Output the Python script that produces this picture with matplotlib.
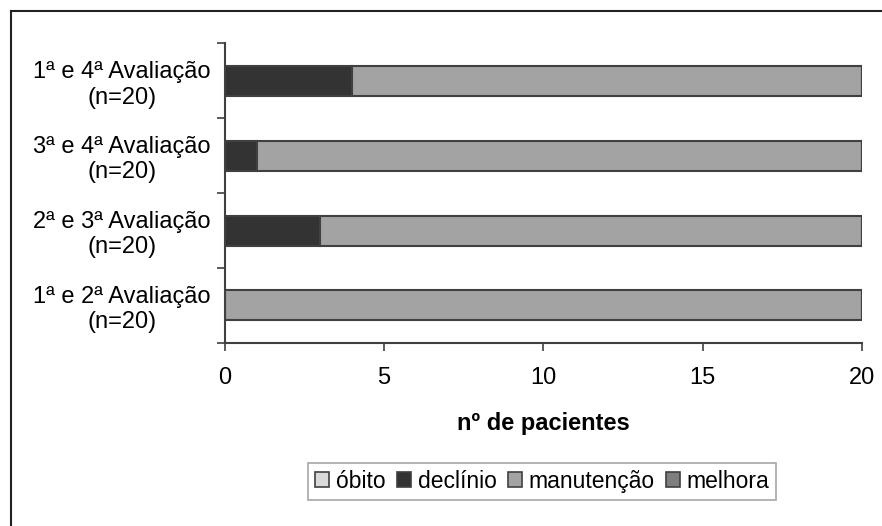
import matplotlib.pyplot as plt
from matplotlib.lines import Line2D
import numpy as np

plt.rcParams['font.family'] = ['Liberation Sans', 'DejaVu Sans']

# dados (de baixo para cima)
categorias = ['1ª e 2ª Avaliação\n(n=20)', '2ª e 3ª Avaliação\n(n=20)',
              '3ª e 4ª Avaliação\n(n=20)', '1ª e 4ª Avaliação\n(n=20)']
obito = [0, 0, 0, 0]
declinio = [0, 3, 1, 4]
manutencao = [20, 17, 19, 16]
melhora = [0, 0, 0, 0]

series = [('óbito', obito, '#d9d9d9'),
          ('declínio', declinio, '#333333'),
          ('manutenção', manutencao, '#a3a3a3'),
          ('melhora', melhora, '#7f7f7f')]

fig = plt.figure(figsize=(8.82, 5.26), dpi=100)
ax = fig.add_axes([0.255, 0.348, 0.722, 0.570])

y = np.arange(len(categorias))
left = np.zeros(len(categorias))
handles = []
for nome, vals, cor in series:
    vals = np.array(vals, dtype=float)
    ax.barh(y, vals, left=left, height=0.4, color=cor,
            edgecolor='#404040', linewidth=1.5)
    left += vals
    handles.append(plt.Rectangle((0, 0), 1, 1, facecolor=cor,
                                 edgecolor='#404040', linewidth=1.2))

ax.set_xlim(0, 20)
ax.set_ylim(-0.5, len(categorias) - 0.5)
ax.set_xticks([0, 5, 10, 15, 20])
ax.tick_params(axis='x', labelsize=17, length=6, width=1.2,
               color='#404040', pad=11)

# rótulos das categorias no centro, ticks nas divisões
ax.set_yticks(y)
ax.set_yticklabels(categorias, fontsize=17, ha='center', linespacing=1.2)
ax.tick_params(axis='y', which='major', length=0, pad=74)
ax.set_yticks(np.arange(-0.5, len(categorias)), minor=True)
ax.tick_params(axis='y', which='minor', length=6, width=1.2, color='#404040')

for s in ['top', 'right']:
    ax.spines[s].set_visible(False)
for s in ['left', 'bottom']:
    ax.spines[s].set_color('#404040')
    ax.spines[s].set_linewidth(1.5)

ax.set_xlabel('nº de pacientes', fontsize=17, fontweight='bold', labelpad=17)

leg = fig.legend(handles, [s[0] for s in series], loc='center',
                 bbox_to_anchor=(0.615, 0.085), ncol=4, fontsize=16.5,
                 frameon=True, fancybox=False, handlelength=0.6,
                 handleheight=0.6, handletextpad=0.3, columnspacing=0.5,
                 borderpad=0.3)
leg.get_frame().set_edgecolor('#909090')
leg.get_frame().set_linewidth(1.2)

# moldura da figura (esquerda e topo)
fig.add_artist(Line2D([11 / 882, 11 / 882], [0, 1 - 11 / 526],
                      transform=fig.transFigure, color='#222222', lw=1.5))
fig.add_artist(Line2D([11 / 882, 1], [1 - 11 / 526, 1 - 11 / 526],
                      transform=fig.transFigure, color='#222222', lw=1.5))

fig.savefig('out.png', dpi=100)
